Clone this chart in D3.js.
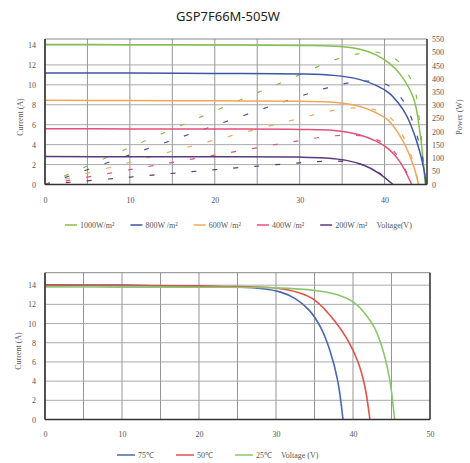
<!DOCTYPE html>
<html>
<head>
<meta charset="utf-8">
<script src="https://cdn.jsdelivr.net/npm/d3@7"></script>
<style>
  body { margin: 0; background: #fff; }
  svg { display: block; }
  .tick text { font-family: 'Liberation Serif', serif; font-size: 8px; fill: #555; }
  .lbl { font-family: 'Liberation Serif', serif; font-size: 8px; fill: #555; }
</style>
</head>
<body>
<svg id="chart" width="470" height="463"></svg>
<script>
// --- irradiance chart (top) ---
const irrLabels = ['1000W/m²', '800W /m²', '600W /m²', '400W /m²', '200W /m²'];
const irrColors = ['#86c14e', '#3d55a5', '#f2a65a', '#e4507a', '#5a3a78'];
const irrVolt = [
  [0, 10, 20, 30, 34, 37, 39, 40.5, 41.8, 43.4, 44.2, 44.8],
  [0, 10, 20, 30, 34, 37, 39, 40.5, 41.6, 42.6, 43.8, 44.6, 44.9],
  [0, 10, 20, 30, 34, 37, 39, 40.5, 42.2, 43.4, 44],
  [0, 10, 20, 30, 34, 37, 39, 40.5, 41.8, 43.2],
  [0, 10, 20, 30, 33, 35.5, 37.5, 39.3, 41]
];
const irrCurrent = [
  [14.05, 14.03, 14.0, 13.95, 13.88, 13.6, 13.0, 12.2, 11.1, 8.7, 5.0, 0],
  [11.2, 11.18, 11.15, 11.1, 10.95, 10.55, 9.95, 9.2, 8.2, 6.9, 4.3, 1.7, 0],
  [8.45, 8.43, 8.4, 8.35, 8.25, 7.85, 7.2, 6.4, 4.3, 1.9, 0],
  [5.6, 5.58, 5.56, 5.53, 5.42, 5.0, 4.35, 3.55, 2.3, 0],
  [2.8, 2.79, 2.78, 2.75, 2.66, 2.42, 1.95, 1.15, 0]
];
const irrPower = [
  [0, 140, 278, 415, 470, 495, 500, 488, 460, 375, 220, 0],
  [0, 112, 223, 333, 372, 390, 388, 373, 341, 294, 188, 76, 0],
  [0, 84, 168, 250, 280, 290, 281, 259, 181, 82, 0],
  [0, 56, 111, 166, 184, 185, 170, 144, 96, 0],
  [0, 28, 56, 82, 88, 86, 73, 45, 0]
];
const topVoltTicks = [0, 10, 20, 30, 40];
const topCurrTicks = [0, 2, 4, 6, 8, 10, 12, 14];
const powerTicks = [0, 50, 100, 150, 200, 250, 300, 350, 400, 450, 500, 550];

// --- temperature chart (bottom) ---
const tempLabels = ['75℃', '50℃', '25℃'];
const tempColors = ['#4a68ae', '#e0524a', '#8cc76b'];
const tempVolt = [
  [0, 10, 20, 25, 28, 30.5, 32.5, 34.3, 35.8, 37.0, 38.0, 38.7],
  [0, 10, 20, 25, 29.9, 33, 35.1, 37.7, 39.3, 40.6, 41.5, 42.2],
  [0, 10, 20, 30, 35.1, 38, 40.1, 41.7, 42.9, 44.0, 44.8, 45.4]
];
const tempCurrent = [
  [14.05, 14.0, 13.9, 13.8, 13.65, 13.3, 12.6, 11.4, 9.6, 7.2, 4.1, 0],
  [13.98, 13.95, 13.9, 13.85, 13.7, 13.2, 12.4, 10.2, 8.3, 6.1, 3.6, 0],
  [13.82, 13.8, 13.78, 13.72, 13.45, 13.0, 12.2, 10.9, 9.4, 6.9, 4.0, 0]
];
const botVoltTicks = [0, 10, 20, 30, 40, 50];
const botCurrTicks = [0, 2, 4, 6, 8, 10, 12, 14];

const svg = d3.select('#chart');

svg.append('text')
  .attr('x', 228).attr('y', 21)
  .attr('text-anchor', 'middle')
  .style('font-family', 'Noto Sans, sans-serif')
  .style('font-size', '13px')
  .style('fill', '#222')
  .text('GSP7F66M-505W');

function drawFrame(g, x, y, vGrid, hGrid) {
  const [x0, x1] = x.range();
  const [y0, y1] = y.range();
  g.selectAll('.vg').data(vGrid).enter().append('line')
    .attr('x1', d => x(d)).attr('x2', d => x(d))
    .attr('y1', y0).attr('y2', y1)
    .attr('stroke', '#8a8a8a').attr('stroke-width', 0.9);
  g.selectAll('.hg').data(hGrid).enter().append('line')
    .attr('x1', x0).attr('x2', x1)
    .attr('y1', d => y(d)).attr('y2', d => y(d))
    .attr('stroke', '#a0a0a0').attr('stroke-width', 0.9);
  // top border gray, other sides dark
  g.append('line').attr('x1', x0).attr('x2', x1).attr('y1', y1).attr('y2', y1)
    .attr('stroke', '#888').attr('stroke-width', 1);
}

function drawAxes(g, x, y, xTicks, yTicks, xLabelY) {
  const [x0, x1] = x.range();
  const [y0, y1] = y.range();
  g.append('g')
    .attr('transform', `translate(0,${xLabelY})`)
    .call(d3.axisBottom(x).tickValues(xTicks).tickSize(0).tickPadding(0))
    .call(a => a.select('.domain').remove());
  g.append('g')
    .attr('transform', `translate(${x0 - 9},0)`)
    .call(d3.axisLeft(y).tickValues(yTicks).tickSize(0).tickPadding(0))
    .call(a => a.select('.domain').remove());
  g.append('line').attr('x1', x0).attr('x2', x0).attr('y1', y0).attr('y2', y1)
    .attr('stroke', '#333').attr('stroke-width', 1.6);
  g.append('line').attr('x1', x0).attr('x2', x1).attr('y1', y0).attr('y2', y0)
    .attr('stroke', '#333').attr('stroke-width', 1.6);
  g.append('line').attr('x1', x1).attr('x2', x1).attr('y1', y0).attr('y2', y1)
    .attr('stroke', '#333').attr('stroke-width', 1.4);
}

function legend(g, items, colors, startX, yPos, lineLen, gap, extra) {
  let cx = startX;
  items.forEach((t, i) => {
    g.append('line').attr('x1', cx).attr('x2', cx + lineLen)
      .attr('y1', yPos - 3).attr('y2', yPos - 3)
      .attr('stroke', colors[i]).attr('stroke-width', 1.5);
    const tx = g.append('text').attr('class', 'lbl')
      .attr('x', cx + lineLen + 3).attr('y', yPos).text(t);
    cx += lineLen + 3 + tx.node().getComputedTextLength() + gap;
  });
  g.append('text').attr('class', 'lbl').attr('x', cx - gap + 9).attr('y', yPos).text(extra);
}

const smooth = d3.line().curve(d3.curveCatmullRom.alpha(0.5));

// ---------- top chart ----------
const topG = svg.append('g');
const xT = d3.scaleLinear().domain([0, 45]).range([45, 427]);
const yT = d3.scaleLinear().domain([0, 14.6]).range([184.5, 39]);
const yP = d3.scaleLinear().domain([0, 550]).range([184.5, 39]);

drawFrame(topG, xT, yT, d3.range(0, 46, 5), topCurrTicks);

irrVolt.forEach((vs, i) => {
  topG.append('path')
    .attr('d', smooth(vs.map((v, j) => [xT(v), yT(irrCurrent[i][j])])))
    .attr('fill', 'none').attr('stroke', irrColors[i]).attr('stroke-width', 1.5);
  topG.append('path')
    .attr('d', smooth(vs.map((v, j) => [xT(v), yP(irrPower[i][j])])))
    .attr('fill', 'none').attr('stroke', irrColors[i]).attr('stroke-width', 1.2)
    .attr('stroke-dasharray', '5,16');
});

drawAxes(topG, xT, yT, topVoltTicks, topCurrTicks, 197);
topG.append('g')
  .attr('transform', 'translate(432,0)')
  .call(d3.axisRight(yP).tickValues(powerTicks).tickSize(0).tickPadding(0))
  .call(a => a.select('.domain').remove());

topG.append('text').attr('class', 'lbl')
  .attr('transform', 'translate(23,117) rotate(-90)')
  .attr('text-anchor', 'middle').text('Current (A)');
topG.append('text').attr('class', 'lbl')
  .attr('transform', 'translate(462,117) rotate(-90)')
  .attr('text-anchor', 'middle').text('Power (W)');

legend(topG, irrLabels, irrColors, 65, 228, 12, 16, 'Voltage(V)');

// ---------- bottom chart ----------
const botG = svg.append('g');
const xB = d3.scaleLinear().domain([0, 50]).range([45, 430]);
const yB = d3.scaleLinear().domain([0, 15.3]).range([419.5, 272.7]);

drawFrame(botG, xB, yB, d3.range(0, 51, 5), botCurrTicks);

tempVolt.forEach((vs, i) => {
  botG.append('path')
    .attr('d', smooth(vs.map((v, j) => [xB(v), yB(tempCurrent[i][j])])))
    .attr('fill', 'none').attr('stroke', tempColors[i]).attr('stroke-width', 1.6);
});

drawAxes(botG, xB, yB, botVoltTicks, botCurrTicks, 431);

botG.append('text').attr('class', 'lbl')
  .attr('transform', 'translate(21,351) rotate(-90)')
  .attr('text-anchor', 'middle').text('Current (A)');

legend(botG, tempLabels, tempColors, 117, 458, 18, 22, 'Voltage (V)');
</script>
</body>
</html>
